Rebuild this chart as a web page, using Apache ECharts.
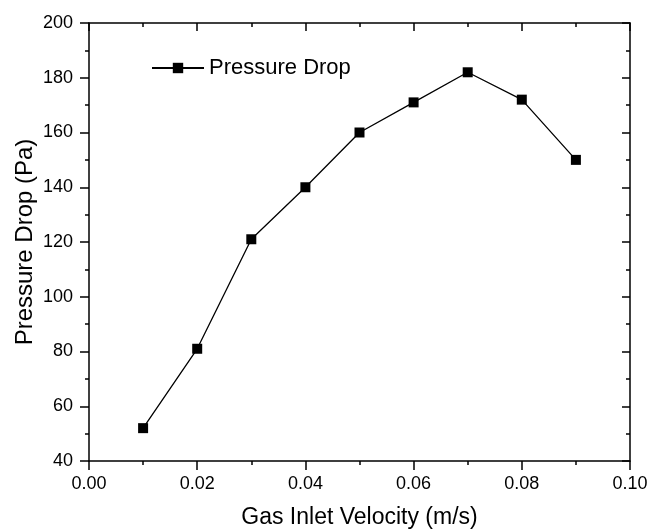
<!DOCTYPE html>
<html>
<head>
<meta charset="utf-8">
<script src="https://cdn.jsdelivr.net/npm/echarts@6/dist/echarts.min.js"></script>
<style>
  html, body { margin: 0; padding: 0; background: #fff; }
  #chart { width: 648px; height: 529px; }
</style>
</head>
<body>
<div id="chart"></div>
<script>
// 气速 (m/s)
const velocity = [0.01, 0.02, 0.03, 0.04, 0.05, 0.06, 0.07, 0.08, 0.09];
// 压降 (Pa)
const pressureDrop = [52, 81, 121, 140, 160, 171, 182, 172, 150];
const seriesName = 'Pressure Drop';

const font = 'Liberation Sans, Arial, sans-serif';
const axisLine = { show: true, onZero: false, lineStyle: { color: '#000', width: 1.5 } };
const tick = (inside) => ({ show: true, inside: inside, length: inside ? 8 : 9, lineStyle: { color: '#000', width: 1.5 } });
const minor = { show: true, splitNumber: 2, length: 4, lineStyle: { color: '#000', width: 1.5 } };

const myChart = echarts.init(document.getElementById('chart'));
const option = {
  animation: false,
  backgroundColor: '#fff',
  textStyle: { fontFamily: font },
  grid: { left: 89, top: 23, right: 18, bottom: 68, outerBoundsMode: 'none', containLabel: false },
  legend: {
    data: [seriesName],
    left: 146,
    top: 52,
    itemWidth: 52,
    itemHeight: 13,
    textStyle: { fontFamily: font, fontSize: 22, color: '#000' },
  },
  xAxis: [
    {
      type: 'value',
      min: 0,
      max: 0.1,
      interval: 0.02,
      name: 'Gas Inlet Velocity (m/s)',
      nameLocation: 'middle',
      nameGap: 45,
      nameMoveOverlap: false,
      nameTextStyle: { fontFamily: font, fontSize: 23, color: '#000' },
      axisLine: axisLine,
      axisTick: tick(false),
      minorTick: minor,
      splitLine: { show: false },
      axisLabel: {
        fontFamily: font, fontSize: 18, color: '#000', margin: 14,
        formatter: (v) => v.toFixed(2),
      },
    },
    {
      type: 'value',
      position: 'top',
      min: 0,
      max: 0.1,
      interval: 0.02,
      axisLine: axisLine,
      axisTick: tick(true),
      minorTick: minor,
      splitLine: { show: false },
      axisLabel: { show: false },
    },
  ],
  yAxis: [
    {
      type: 'value',
      min: 40,
      max: 200,
      interval: 20,
      name: 'Pressure Drop (Pa)',
      nameLocation: 'middle',
      nameGap: 52,
      nameMoveOverlap: false,
      nameTextStyle: { fontFamily: font, fontSize: 24, color: '#000' },
      axisLine: axisLine,
      axisTick: tick(false),
      minorTick: minor,
      splitLine: { show: false },
      axisLabel: { fontFamily: font, fontSize: 18, color: '#000', margin: 16 },
    },
    {
      type: 'value',
      position: 'right',
      min: 40,
      max: 200,
      interval: 20,
      axisLine: axisLine,
      axisTick: tick(true),
      minorTick: minor,
      splitLine: { show: false },
      axisLabel: { show: false },
    },
  ],
  series: [
    {
      name: seriesName,
      type: 'line',
      xAxisIndex: 0,
      yAxisIndex: 0,
      data: velocity.map((v, i) => [v, pressureDrop[i]]),
      symbol: 'rect',
      symbolSize: 10,
      itemStyle: { color: '#000' },
      lineStyle: { color: '#000', width: 1.3 },
    },
  ],
};
myChart.setOption(option, true);
</script>
</body>
</html>
